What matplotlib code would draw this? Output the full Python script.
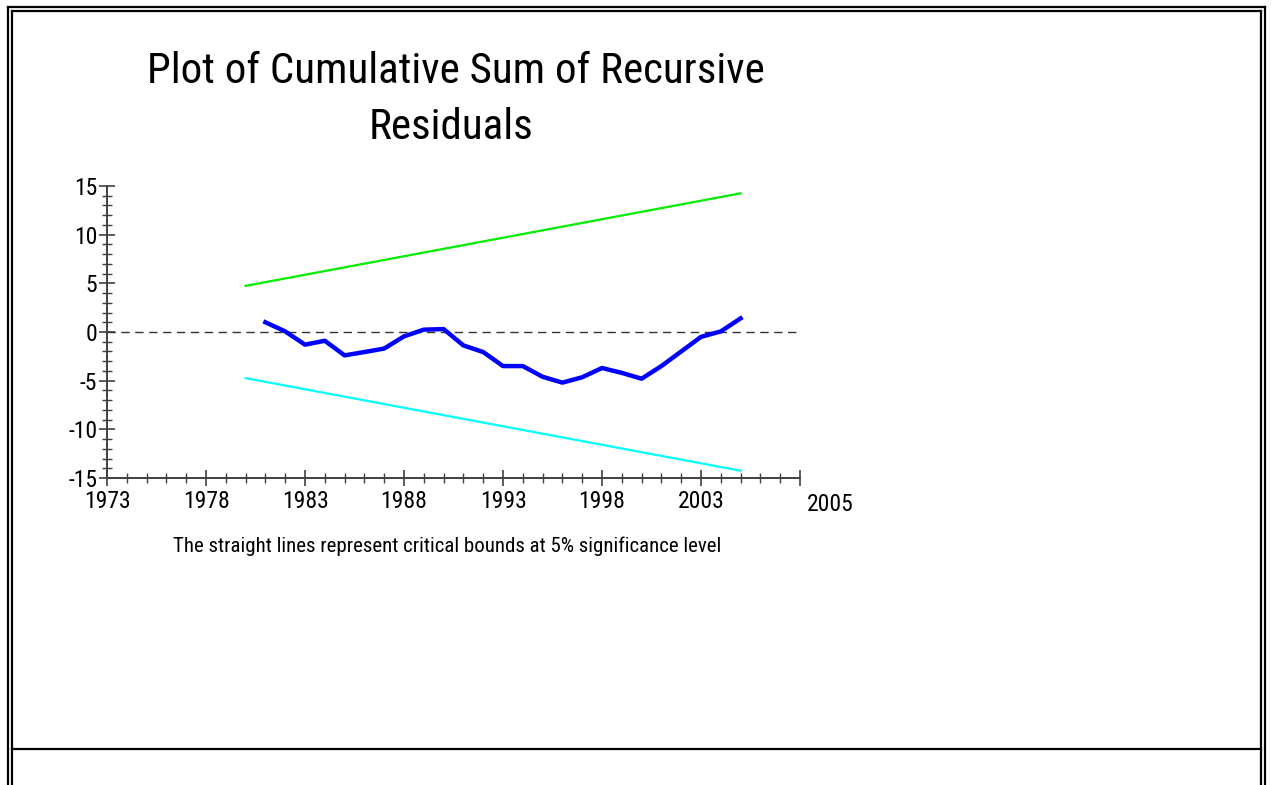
import matplotlib
matplotlib.use("Agg")
import matplotlib.pyplot as plt
from matplotlib.lines import Line2D
from matplotlib.ticker import MultipleLocator

# condensed sans, close to the Arial Narrow look of the original
plt.rcParams['font.family'] = ['Roboto Condensed', 'Liberation Sans', 'DejaVu Sans']

# data
years = [1981, 1982, 1983, 1984, 1985, 1986, 1987, 1988, 1989, 1990, 1991, 1992, 1993,
         1994, 1995, 1996, 1997, 1998, 1999, 2000, 2001, 2002, 2003, 2004, 2005]
cusum = [1.0, 0.06, -1.3, -0.9, -2.4, -2.06, -1.7, -0.45, 0.24, 0.3, -1.38, -2.06, -3.5,
         -3.5, -4.6, -5.2, -4.65, -3.7, -4.2, -4.8, -3.5, -2.0, -0.5, 0.06, 1.4]
bound_years = [1980, 2005]
upper = [4.74, 14.25]
lower = [-4.74, -14.25]
xtick_vals = [1973, 1978, 1983, 1988, 1993, 1998, 2003]
ytick_vals = [-15, -10, -5, 0, 5, 10, 15]

W, H = 1271, 785
fig = plt.figure(figsize=(W / 100, H / 100), dpi=100)

def fx(px):
    return px / W

def fy(py):
    return 1 - py / H

# axes placed in pixel terms
ax = fig.add_axes([fx(107), fy(478), fx(800 - 107), (478 - 186) / H])
ax.set_xlim(1973, 2008)
ax.set_ylim(-15, 15)

ax.axhline(0, color='#333333', lw=1, dashes=(6, 4))
ax.plot(bound_years, upper, color='#00ee00', lw=1.6)
ax.plot(bound_years, lower, color='#00ffff', lw=1.6)
ax.plot(years, cusum, color='#0000ff', lw=3.2, solid_joinstyle='round')

for s in ['top', 'right']:
    ax.spines[s].set_visible(False)
for s in ['left', 'bottom']:
    ax.spines[s].set_color('#404040')
    ax.spines[s].set_linewidth(1.4)

ax.set_xticks(xtick_vals + [2008])
ax.set_xticklabels([str(v) for v in xtick_vals] + [''])
ax.xaxis.set_minor_locator(MultipleLocator(1))
ax.set_yticks(ytick_vals)
ax.set_yticklabels([str(v) for v in ytick_vals])
ax.yaxis.set_minor_locator(MultipleLocator(1))
ax.tick_params(which='major', direction='inout', length=12, width=1.2, color='#404040',
               labelsize=17, pad=1)
ax.tick_params(which='minor', direction='inout', length=7, width=1, color='#404040')
ax.tick_params(axis='x', which='major', pad=3)
ax.patch.set_visible(False)

fig.text(fx(830), fy(511), '2005', ha='center', va='baseline', fontsize=17)

fig.text(fx(456), fy(83), 'Plot of Cumulative Sum of Recursive', ha='center',
         va='baseline', fontsize=31)
fig.text(fx(451), fy(139), 'Residuals', ha='center', va='baseline', fontsize=31)
fig.text(fx(447), fy(552), 'The straight lines represent critical bounds at 5% significance level',
         ha='center', va='baseline', fontsize=15)

# double frame around the page
def hline(x0, x1, y):
    fig.add_artist(Line2D([fx(x0), fx(x1)], [fy(y), fy(y)], color='black', lw=1.6))

def vline(x, y0, y1):
    fig.add_artist(Line2D([fx(x), fx(x)], [fy(y0), fy(y1)], color='black', lw=1.6))

hline(8, 1265, 7)
hline(12, 1261, 11)
vline(8, 7, 785)
vline(12, 11, 785)
vline(1261, 11, 785)
vline(1265, 7, 785)
hline(12, 1261, 749)

fig.savefig('out.png', dpi=100)
